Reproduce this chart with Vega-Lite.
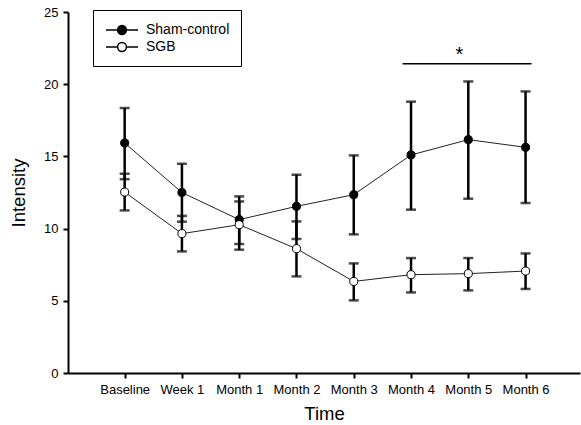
{
  "$schema": "https://vega.github.io/schema/vega-lite/v6.json",
  "width": 512,
  "height": 361,
  "autosize": {"type": "none"},
  "padding": {"left": 68, "top": 12, "right": 1, "bottom": 52},
  "background": "white",
  "config": {
    "view": {"stroke": null},
    "font": "Liberation Sans",
    "axis": {
      "domainColor": "black",
      "domainWidth": 2,
      "tickColor": "black",
      "tickWidth": 2,
      "tickSize": 5,
      "labelColor": "black",
      "titleColor": "black",
      "labelFontSize": 13,
      "labelFont": "Liberation Sans",
      "titleFont": "Liberation Sans",
      "titleFontSize": 18.5,
      "titleFontWeight": "normal",
      "labelPadding": 5,
      "grid": false
    }
  },
  "datasets": {
    "main": [
      {"time": "Baseline", "group": "Sham-control", "mean": 15.93, "lo": 13.42, "hi": 18.35},
      {"time": "Week 1", "group": "Sham-control", "mean": 12.5, "lo": 10.48, "hi": 14.49},
      {"time": "Month 1", "group": "Sham-control", "mean": 10.62, "lo": 8.93, "hi": 12.23},
      {"time": "Month 2", "group": "Sham-control", "mean": 11.54, "lo": 9.28, "hi": 13.73},
      {"time": "Month 3", "group": "Sham-control", "mean": 12.35, "lo": 9.6, "hi": 15.07},
      {"time": "Month 4", "group": "Sham-control", "mean": 15.1, "lo": 11.31, "hi": 18.79},
      {"time": "Month 5", "group": "Sham-control", "mean": 16.16, "lo": 12.07, "hi": 20.19},
      {"time": "Month 6", "group": "Sham-control", "mean": 15.63, "lo": 11.77, "hi": 19.5},
      {"time": "Baseline", "group": "SGB", "mean": 12.53, "lo": 11.26, "hi": 13.8},
      {"time": "Week 1", "group": "SGB", "mean": 9.65, "lo": 8.42, "hi": 10.88},
      {"time": "Month 1", "group": "SGB", "mean": 10.27, "lo": 8.54, "hi": 11.88},
      {"time": "Month 2", "group": "SGB", "mean": 8.61, "lo": 6.69, "hi": 10.5},
      {"time": "Month 3", "group": "SGB", "mean": 6.34, "lo": 5.03, "hi": 7.59},
      {"time": "Month 4", "group": "SGB", "mean": 6.81, "lo": 5.58, "hi": 7.96},
      {"time": "Month 5", "group": "SGB", "mean": 6.88, "lo": 5.72, "hi": 7.96},
      {"time": "Month 6", "group": "SGB", "mean": 7.06, "lo": 5.82, "hi": 8.28}
    ],
    "sig": [{"from": "Month 4", "to": "Month 6", "y": 21.42}],
    "star": [{"time": "Month 5", "y": 21.6, "label": "*"}]
  },
  "layer": [
    {
      "data": {"name": "main"},
      "mark": {"type": "line", "color": "#222", "strokeWidth": 1},
      "encoding": {
        "x": {
          "field": "time", "type": "nominal",
          "scale": {"type": "point", "padding": 0.97, "align": 0.51,
            "domain": ["Baseline", "Week 1", "Month 1", "Month 2", "Month 3", "Month 4", "Month 5", "Month 6"]},
          "axis": {"title": "Time", "labelAngle": 0, "titlePadding": 8}
        },
        "y": {
          "field": "mean", "type": "quantitative",
          "scale": {"domain": [0, 25], "nice": false},
          "axis": {"title": "Intensity", "values": [0, 5, 10, 15, 20, 25], "titlePadding": 15}
        },
        "detail": {"field": "group"}
      }
    },
    {
      "data": {"name": "main"},
      "mark": {"type": "rule", "color": "black", "strokeWidth": 2.5},
      "encoding": {
        "x": {"field": "time", "type": "nominal"},
        "y": {"field": "lo", "type": "quantitative"},
        "y2": {"field": "hi"}
      }
    },
    {
      "data": {"name": "main"},
      "mark": {"type": "tick", "color": "black", "size": 10, "thickness": 2.5, "orient": "horizontal"},
      "encoding": {
        "x": {"field": "time", "type": "nominal"},
        "y": {"field": "lo", "type": "quantitative"}
      }
    },
    {
      "data": {"name": "main"},
      "mark": {"type": "tick", "color": "black", "size": 10, "thickness": 2.5, "orient": "horizontal"},
      "encoding": {
        "x": {"field": "time", "type": "nominal"},
        "y": {"field": "hi", "type": "quantitative"}
      }
    },
    {
      "data": {"name": "main"},
      "mark": {"type": "point", "filled": true, "size": 65, "stroke": "black", "strokeWidth": 1, "opacity": 1},
      "encoding": {
        "x": {"field": "time", "type": "nominal"},
        "y": {"field": "mean", "type": "quantitative"},
        "fill": {
          "field": "group", "type": "nominal",
          "scale": {"domain": ["Sham-control", "SGB"], "range": ["black", "white"]},
          "legend": {
            "title": null,
            "orient": "none",
            "legendX": 25,
            "legendY": -2,
            "strokeColor": "black",
            "fillColor": "white",
            "padding": 11,
            "symbolOffset": 9,
            "labelOffset": 15,
            "rowPadding": 0,
            "symbolType": "M-2,0H-0.55M0.55,0H2M-0.55,0A0.55,0.55 0 1,1 0.55,0A0.55,0.55 0 1,1 -0.55,0Z",
            "symbolSize": 256,
            "symbolStrokeColor": "black",
            "symbolStrokeWidth": 1.5,
            "labelFontSize": 14,
            "labelFont": "Liberation Sans",
            "labelColor": "black"
          }
        }
      }
    },
    {
      "data": {"name": "sig"},
      "mark": {"type": "rule", "color": "black", "strokeWidth": 1.5, "xOffset": -8.5, "x2Offset": 6},
      "encoding": {
        "x": {"field": "from", "type": "nominal"},
        "x2": {"field": "to"},
        "y": {"field": "y", "type": "quantitative"}
      }
    },
    {
      "data": {"name": "star"},
      "mark": {"type": "text", "fontSize": 20, "baseline": "alphabetic", "align": "center", "dx": -9, "color": "black"},
      "encoding": {
        "x": {"field": "time", "type": "nominal"},
        "y": {"field": "y", "type": "quantitative"},
        "text": {"field": "label"}
      }
    }
  ]
}
